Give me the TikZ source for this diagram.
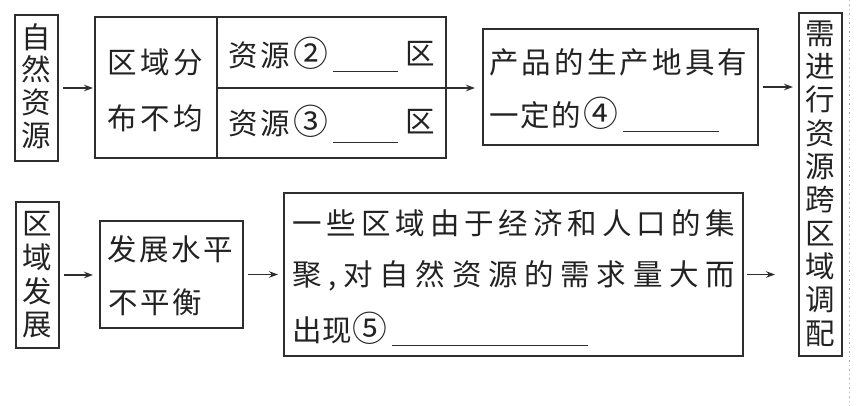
\documentclass[tikz,border=0pt]{standalone}
\usepackage{fontspec}
\usepackage{graphicx}
\newfontfamily\cjk{Noto Sans CJK SC}
\usetikzlibrary{arrows.meta}
\definecolor{lc}{HTML}{2E2E2E}
\definecolor{tc}{HTML}{222222}
\def\jstend{JSTEND}
\def\jstaux#1{\ifx\jstend#1\else\hfil#1\expandafter\jstaux\fi}
\newcommand\jst[2]{\hbox to #1{\hskip 0pt plus -1fil\jstaux#2\jstend}}
\newcommand\cii{\raisebox{-0.6pt}{\scalebox{1.18}{②}}}
\newcommand\ciii{\raisebox{-0.6pt}{\scalebox{1.18}{③}}}
\newcommand\civ{\raisebox{-0.6pt}{\scalebox{1.18}{④}}}
\newcommand\cv{\raisebox{-0.6pt}{\scalebox{1.18}{⑤}}}
\begin{document}
\begin{tikzpicture}[x=1pt,y=-1pt,
  box/.style={draw=lc, line width=1.2pt, inner sep=0pt, outer sep=0pt},
  txt/.style={inner sep=0pt, anchor=west, text=tc, font=\cjk\fontsize{29.5}{29.5}\selectfont},
  vtxt/.style={inner sep=0pt, align=center, text=tc},
  arr/.style={draw=lc, line width=1.2pt, -{Stealth[length=9pt,width=6.5pt]}},
  uline/.style={draw=lc, line width=1pt}]
\useasboundingbox (0,0) rectangle (859,406);
% boxes
\node[box, minimum width=43pt, minimum height=146pt] (A) at (36.5,88) {};
\node[box, minimum width=351pt, minimum height=141pt] (B) at (270.5,87.5) {};
\node[box, minimum width=275pt, minimum height=116pt] (C) at (620.5,87) {};
\node[box, minimum width=43pt, minimum height=343pt] (D) at (820.5,184.5) {};
\node[box, minimum width=43pt, minimum height=146pt] (E) at (37.5,275) {};
\node[box, minimum width=143pt, minimum height=107pt] (F) at (171.5,274.5) {};
\node[box, minimum width=459pt, minimum height=163pt] (G) at (513.5,274.5) {};
% divider inside B
\coordinate (Bdt) at (217,17);
\coordinate (Bdb) at (217,158);
\coordinate (Bdiv) at (217,88);
\draw[draw=lc, line width=1.2pt] (Bdt) -- (Bdb);
% vertical texts
\node[vtxt, font=\cjk\fontsize{29.5}{32.8}\selectfont] (At) at (36.5,86) {自\\然\\资\\源};
\node[vtxt, font=\cjk\fontsize{29.5}{33.7}\selectfont] (Et) at (37.5,275) {区\\域\\发\\展};
\node[vtxt, font=\cjk\fontsize{29.5}{33.3}\selectfont] (Dt) at (820.5,183.5) {需\\进\\行\\资\\源\\跨\\区\\域\\调\\配};
% texts in B
\node[txt] (B1) at (107,62.5) {\jst{96pt}{区域分}};
\node[txt] (B2) at (107,118.5) {\jst{96pt}{布不均}};
\node[txt] (B3) at (228,53.5) {\jst{100pt}{资源\cii}};
\node[txt] (B3q) at (405,53.5) {区};
\draw[uline] (333,72) -- (398,72);
\node[txt] (B4) at (228,121.5) {\jst{100pt}{资源\ciii}};
\node[txt] (B4q) at (405,121.5) {区};
\draw[uline] (333,143) -- (398,143);
% texts in C
\node[txt] (C1) at (489,62.5) {\jst{258pt}{产品的生产地具有}};
\node[txt] (C2) at (489,113.5) {\jst{129pt}{一定的\civ}};
\draw[uline] (623,132) -- (719,132);
% texts in F
\node[txt] (F1) at (107,249) {\jst{126pt}{发展水平}};
\node[txt] (F2) at (108,302.5) {\jst{94pt}{不平衡}};
% texts in G
\node[txt] (G1) at (292,223.5) {\jst{443pt}{一些区域由于经济和人口的集}};
\node[txt] (G2) at (292,275.5) {\jst{443pt}{聚,对自然资源的需求量大而}};
\node[txt] (G3) at (292,328.5) {\jst{95pt}{出现\cv}};
\draw[uline] (392,345) -- (588,345);
% arrows
\draw[arr, shorten <=5pt, shorten >=2pt] (A.east) -- (A.east -| B.west);
\draw[arr, shorten >=8pt] (Bdiv) -- (Bdiv -| C.west);
\draw[arr, shorten <=5pt, shorten >=6pt] (C.east) -- (C.east -| D.west);
\draw[arr, shorten <=5pt, shorten >=7pt] (E.east) -- (E.east -| F.west);
\draw[arr, shorten <=5pt, shorten >=6pt] (F.east) -- (F.east -| G.west);
\draw[arr, shorten <=4pt, shorten >=24pt] (G.east) -- (G.east -| D.west);
% dotted edge line
\coordinate (Lt) at (849,0);
\coordinate (Lb) at (849,406);
\draw[gray!55, line width=0.8pt, dash pattern=on 1.5pt off 3pt] (Lt) -- (Lb);
\end{tikzpicture}
\end{document}
